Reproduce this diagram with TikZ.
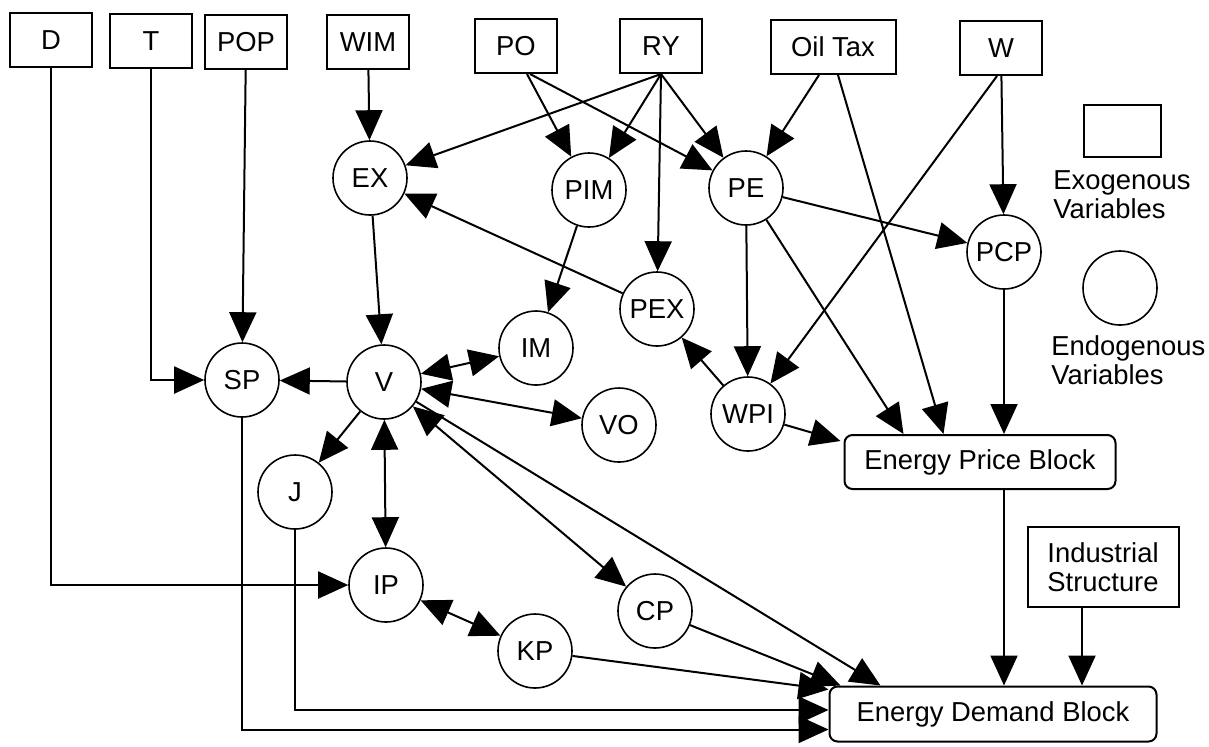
\documentclass[tikz,border=0pt]{standalone}
\usepackage{fontspec}
\setmainfont{Liberation Sans}
\usetikzlibrary{arrows.meta,calc}

\begin{document}
\begin{tikzpicture}[x=0.5pt,y=-0.5pt,
    >={Triangle[length=15pt,width=13.5pt]},
    font=\fontsize{13.7}{14.5}\selectfont,
    exo/.style={draw,line width=1pt,minimum width=41pt,minimum height=27pt,inner sep=0pt},
    endo/.style={draw,circle,line width=0.8pt,minimum size=37pt,inner sep=0pt},
    block/.style={draw,rounded corners=4pt,line width=1pt,inner sep=0pt},
    link/.style={->,line width=1pt},
    both/.style={<->,line width=1pt}]
        \useasboundingbox (0,0) rectangle (1209,746);

        % Exogenous inputs along the top
        \node[exo] (D) at (51,40) {D};
        \node[exo] (T) at (151,41) {T};
        \node[exo] (POP) at (246,42) {POP};
        \node[exo] (WIM) at (368,42) {WIM};
        \node[exo] (PO) at (516,46) {PO};
        \node[exo] (RY) at (661,46) {RY};
        \node[exo,minimum width=62.5pt] (OilTax) at (833,47) {Oil Tax};
        \node[exo] (W) at (1001,48) {W};

        % Endogenous variables
        \node[endo] (EX) at (370,178) {EX};
        \node[endo] (PIM) at (589,190) {PIM};
        \node[endo] (PE) at (746,188) {PE};
        \node[endo] (PCP) at (1004,252) {PCP};
        \node[endo] (PEX) at (657,309) {PEX};
        \node[endo] (IM) at (536,348) {IM};
        \node[endo] (SP) at (242,380) {SP};
        \node[endo] (V) at (384,382) {V};
        \node[endo] (VO) at (619,425) {VO};
        \node[endo] (WPI) at (748,414) {WPI};
        \node[endo] (J) at (295,492) {J};
        \node[endo] (IP) at (386,585) {IP};
        \node[endo] (CP) at (655,611) {CP};
        \node[endo] (KP) at (535,651) {KP};

        % Price and demand blocks
        \node[block,minimum width=135.5pt,minimum height=27pt] (EPB) at (980,462) {Energy Price Block};
        \node[block,minimum width=163.5pt,minimum height=27.5pt] (EDB) at (993,714) {Energy Demand Block};
        \node[exo,minimum width=75.5pt,minimum height=40pt,align=center] (IndStr) at (1103,567) {Industrial\\Structure};

        % Legend
        \node[exo,minimum width=38.5pt,minimum height=26pt] (legExo) at (1122,131) {};
        \node[anchor=north west,inner sep=0pt,align=left] (legExoTxt) at (1053,170) {Exogenous\\Variables};
        \node[endo] (legEndo) at (1120,288) {};
        \node[anchor=north west,inner sep=0pt,align=left] (legEndoTxt) at (1051,335) {Endogenous\\Variables};

        % Inputs from the top row
        \draw[link] (D.south) |- (IP);
        \draw[link] (T.south) |- (SP);
        \draw[link] (POP) -- (SP);
        \draw[link] (WIM) -- (EX);
        \draw[link] (RY.south) -- (EX);
        \draw[link] ($(PO.south)+(11,0)$) -- (PIM);
        \draw[link] ($(PO.south)+(14,0)$) -- (PE);
        \draw[link] (RY.south) -- (PIM);
        \draw[link] (RY.south) -- (PEX);
        \draw[link] (RY.south) -- (PE);
        \draw[link] ($(OilTax.south)+(-14,0)$) -- (PE);
        \draw[link] ($(OilTax.south)+(5,0)$) -- ($(EPB.north west)+(100,0)$);
        \draw[link] ($(W.south)+(-4,0)$) -- (WPI);
        \draw[link] (W) -- (PCP);

        % Prices
        \draw[link] (PE) -- (PCP);
        \draw[link] (PE) -- (WPI);
        \draw[link] (PE) -- ($(EPB.north west)+(60,0)$);
        \draw[link] (PIM) -- (IM);
        \draw[link] (PEX) -- (EX);
        \draw[link] (WPI) -- (PEX);
        \draw[link] (WPI) -- ($(EPB.north west)+(-3,7)$);
        \draw[link] (PCP) -- (PCP |- EPB.north);

        % Activity V and its links
        \draw[link] (EX) -- (V);
        \draw[both] (V) -- (IM);
        \draw[link] (V) -- (SP);
        \draw[both] (V) -- (VO);
        \draw[link] (V) -- (J);
        \draw[both] (V) -- (IP);
        \draw[both] (V) -- (CP);
        \draw[both] (IP) -- (KP);

        % Into the demand block
        \coordinate (isOut) at ($(IndStr.south)+(-21,0)$);
        \draw[link] (V) -- ($(EDB.north west)+(52,0)$);
        \draw[link] (CP) -- ($(EDB.north west)+(12,0)$);
        \draw[link] (KP) -- ($(EDB.north west)+(0,4)$);
        \draw[link] (J) |- ($(EDB.west)+(0,-4)$);
        \draw[link] (SP) |- ($(EDB.south west)+(0,-13)$);
        \draw[link] (PCP |- EPB.south) -- (PCP |- EDB.north);
        \draw[link] (isOut) -- (isOut |- EDB.north);
\end{tikzpicture}
\end{document}
